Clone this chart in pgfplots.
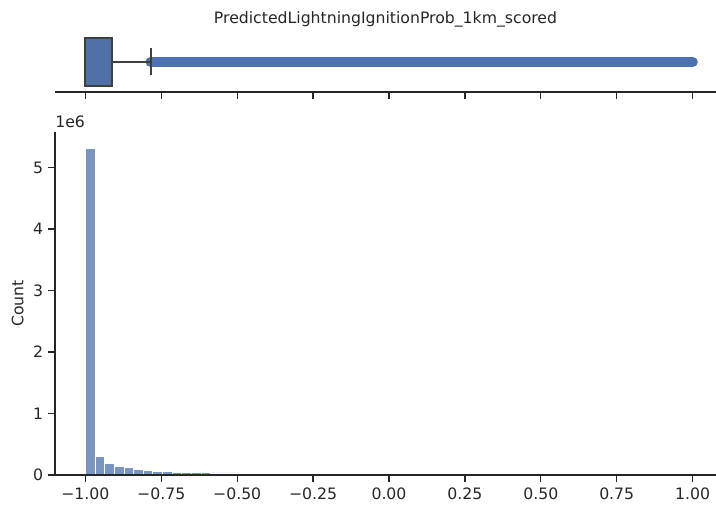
\documentclass[border=0pt]{standalone}
\usepackage{fontspec}
\setmainfont{DejaVu Sans}
\usepackage{pgfplots}
\pgfplotsset{compat=1.18}
\usepgfplotslibrary{statistics}
\definecolor{sbblue}{HTML}{4C72B0}
\definecolor{histblue}{HTML}{7995C4}
\definecolor{boxblue}{HTML}{5070A8}
\definecolor{axgray}{HTML}{262626}
\definecolor{boxedge}{HTML}{3F3F3F}
\begin{document}
\begin{tikzpicture}
\useasboundingbox (-39.6pt,-22.3pt) rectangle (475.9pt,342pt);
\pgfplotsset{
  every axis/.append style={
    scale only axis,
    width=475.9pt,
    xmin=-1.1, xmax=1.077,
    axis line style={axgray, line width=0.9pt},
    tick style={axgray, line width=0.9pt},
    major tick length=5pt,
    tick align=outside,
    font=\fontsize{11.3pt}{13pt}\selectfont,
    tick label style={text=axgray},
    xtick={-1,-0.75,-0.5,-0.25,0,0.25,0.5,0.75,1},
    axis on top,
  }
}
% histogram
\begin{axis}[
  at={(0,0)},
  height=247pt,
  ymin=0, ymax=5.58,
  clip=false,
  axis x line*=bottom,
  axis y line*=left,
  ytick={0,1,2,3,4,5},
  yticklabels={0,1,2,3,4,5},
  xticklabels={−1.00,−0.75,−0.50,−0.25,0.00,0.25,0.50,0.75,1.00},
  ylabel={Count},
  ylabel style={text=axgray, yshift=0pt},
  xticklabel style={yshift=-1pt},
]
\addplot[ybar interval, fill=histblue, draw=white, line width=0.5pt] table {
x y
-1.0000 5.31
-0.9683 0.300
-0.9365 0.185
-0.9048 0.135
-0.8730 0.120
-0.8413 0.090
-0.8095 0.075
-0.7778 0.060
-0.7460 0.058
-0.7143 0.048
-0.6825 0.046
-0.6508 0.038
-0.6190 0.036
-0.5873 0.034
-0.5556 0.034
-0.5238 0.033
-0.4921 0.032
-0.4603 0.006
-0.4286 0.005
-0.3968 0.005
-0.3651 0.004
-0.3333 0.004
-0.3016 0.004
-0.2698 0.003
-0.2381 0.003
-0.2063 0.003
-0.1746 0.003
-0.1429 0.003
-0.1111 0.002
-0.0794 0.002
-0.0476 0.002
-0.0159 0.002
0.0159 0.002
0.0476 0.002
0.0794 0.002
0.1111 0.002
0.1429 0.002
0.1746 0.002
0.2063 0.002
0.2381 0.002
0.2698 0.002
0.3016 0.002
0.3333 0.002
0.3651 0.002
0.3968 0.002
0.4286 0.002
0.4603 0.002
0.4921 0.002
0.5238 0.002
0.5556 0.002
0.5873 0.002
0.6190 0.002
0.6508 0.002
0.6825 0.002
0.7143 0.002
0.7460 0.002
0.7778 0.002
0.8095 0.002
0.8413 0.002
0.8730 0.002
0.9048 0.002
0.9365 0.002
0.9683 0.002
1.0000 0.002
};
\node[anchor=south west, text=axgray, inner sep=0pt, font=\fontsize{11.3pt}{13pt}\selectfont] at (rel axis cs:0,1) [yshift=3pt] {1e6};
\end{axis}
% boxplot
\begin{axis}[
  at={(0,275.8pt)},
  height=43.2pt,
  ymin=-0.5, ymax=0.5,
  axis x line*=bottom,
  axis y line=none,
  xticklabels={},
  title={PredictedLightningIgnitionProb\_1km\_scored},
  title style={text=axgray, yshift=-6pt},
]
\addplot[sbblue, line width=7.5pt, line cap=round] coordinates {(-0.785,0) (1.0,0)};
\addplot[boxedge, line width=1.4pt, fill=boxblue,
  boxplot prepared={
    median=-1, lower quartile=-1, upper quartile=-0.913,
    lower whisker=-1, upper whisker=-0.785,
    draw direction=x, box extend=0.8, whisker extend=0.45, draw position=0
  }] coordinates {};
\end{axis}
\end{tikzpicture}
\end{document}
